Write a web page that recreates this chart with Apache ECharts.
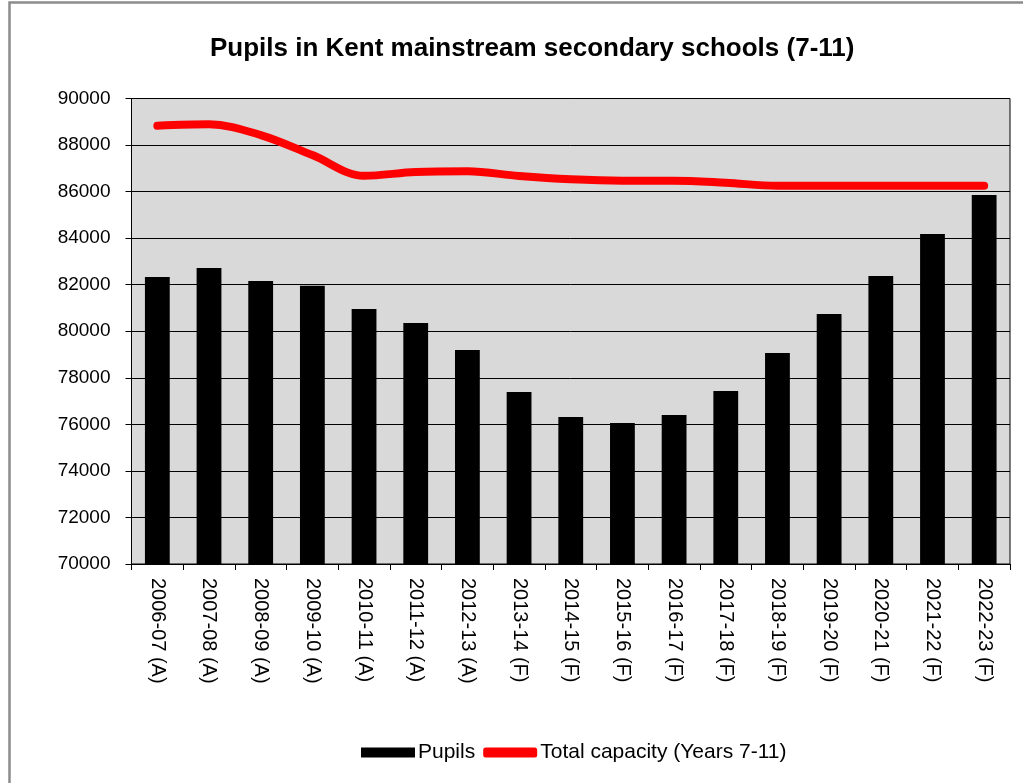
<!DOCTYPE html>
<html>
<head>
<meta charset="utf-8">
<script src="https://cdn.jsdelivr.net/npm/echarts@6/dist/echarts.min.js"></script>
<style>
html, body { margin: 0; padding: 0; background: #fff; }
#chart { width: 1023px; height: 783px; }
</style>
</head>
<body>
<div id="chart"></div>
<script>
var years = ['2006-07 (A)', '2007-08 (A)', '2008-09 (A)', '2009-10 (A)', '2010-11 (A)', '2011-12 (A)',
    '2012-13 (A)', '2013-14 (F)', '2014-15 (F)', '2015-16 (F)', '2016-17 (F)', '2017-18 (F)',
    '2018-19 (F)', '2019-20 (F)', '2020-21 (F)', '2021-22 (F)', '2022-23 (F)'];
var pupils = [82330, 82720, 82160, 81960, 80960, 80350, 79190, 77390, 76320, 76060, 76400,
    77430, 79070, 80740, 82370, 84180, 85850];
var capacity = [88830, 88890, 88430, 87570, 86680, 86840, 86870, 86670, 86530, 86470, 86470,
    86380, 86250, 86250, 86250, 86250, 86250];

var font = 'Liberation Sans, Arial, sans-serif';
var chart = echarts.init(document.getElementById('chart'));

var option = {
    animation: false,
    backgroundColor: '#fff',
    title: {
        text: 'Pupils in Kent mainstream secondary schools (7-11)',
        left: 205,
        top: 31,
        textStyle: { fontFamily: font, fontSize: 26, fontWeight: 'bold', color: '#000' }
    },
    // grey frame round the picture
    graphic: [{
        type: 'rect',
        shape: { x: 9.5, y: 2.5, width: 1100, height: 800 },
        style: { fill: 'none', stroke: '#8c8c8c', lineWidth: 2.5 },
        silent: true
    }],
    legend: {
        bottom: 15,
        left: 356,
        itemWidth: 54,
        itemHeight: 10,
        itemGap: 8,
        textStyle: { fontFamily: font, fontSize: 21, color: '#000', padding: [0, 0, 0, -2] },
        data: [
            { name: 'Pupils', icon: 'rect' },
            { name: 'Total capacity (Years 7-11)', icon: 'roundRect' }
        ]
    },
    grid: {
        left: 131.5,
        right: 13,
        top: 98.5,
        bottom: 219,
        show: true,
        backgroundColor: '#d9d9d9',
        borderColor: '#000',
        borderWidth: 1
    },
    xAxis: {
        type: 'category',
        data: years,
        axisLine: { lineStyle: { color: '#000', width: 1 } },
        axisTick: { show: true, length: 6, lineStyle: { color: '#000' } },
        axisLabel: {
            rotate: -90,
            margin: 14,
            fontFamily: font,
            fontSize: 20,
            color: '#000',
            interval: 0
        }
    },
    yAxis: {
        type: 'value',
        min: 70000,
        max: 90000,
        interval: 2000,
        axisLine: { show: true, lineStyle: { color: '#000', width: 1 } },
        axisTick: { show: true, length: 6, lineStyle: { color: '#000' } },
        axisLabel: {
            margin: 21,
            fontFamily: font,
            fontSize: 19,
            color: '#000',
            formatter: function (v) { return String(v); }
        },
        splitLine: { show: true, lineStyle: { color: '#000', width: 1 } }
    },
    series: [
        {
            name: 'Pupils',
            type: 'bar',
            data: pupils,
            barWidth: '48%',
            itemStyle: { color: '#000' }
        },
        {
            name: 'Total capacity (Years 7-11)',
            type: 'line',
            data: capacity,
            smooth: 0.35,
            showSymbol: false,
            symbol: 'none',
            itemStyle: { color: '#ff0000' },
            lineStyle: { color: '#ff0000', width: 8, cap: 'round' }
        }
    ]
};

chart.setOption(option);
</script>
</body>
</html>
